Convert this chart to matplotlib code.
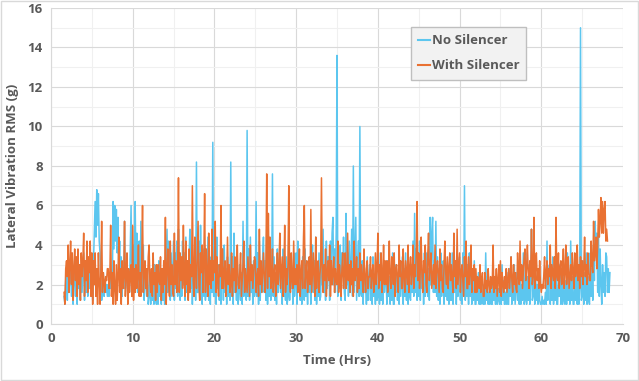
import matplotlib
matplotlib.use('Agg')
import matplotlib.pyplot as plt
import numpy as np
from matplotlib.ticker import MultipleLocator

# sampled every 0.1 hrs starting at 1.6 hrs
t_start = 1.6
t_step = 0.1

# With Silencer, one row per hour (1.6 .. 68.1)
with_silencer = [
    1.6, 1.0, 2.8, 3.2,
    2.4, 4.0, 1.6, 3.0, 4.2, 2.0, 3.6, 1.2, 2.8, 3.8,
    2.2, 3.4, 1.4, 3.8, 2.0, 3.0, 1.2, 3.6, 2.4, 3.2,
    4.6, 1.4, 3.2, 2.2, 4.2, 1.6, 3.4, 2.6, 4.2, 1.4,
    3.6, 1.0, 3.2, 2.0, 3.6, 1.4, 2.8, 1.0, 3.6, 2.2,
    1.0, 2.6, 5.2, 1.6, 2.6, 2.2, 1.6, 2.4, 2.2, 2.8,
    2.8, 1.8, 2.4, 5.0, 1.4, 2.6, 1.0, 3.2, 1.8, 1.0,
    3.0, 1.2, 2.4, 4.4, 1.6, 2.8, 1.0, 3.2, 1.8, 2.4,
    5.2, 1.4, 2.6, 3.6, 1.0, 2.8, 1.6, 2.4, 3.0, 1.4,
    5.0, 1.2, 2.8, 1.6, 3.0, 1.8, 2.4, 4.0, 1.4, 2.6,
    1.4, 3.0, 6.0, 1.6, 2.6, 3.2, 1.8, 2.8, 1.4, 3.4,
    4.0, 2.2, 1.6, 2.8, 1.4, 3.6, 2.0, 2.6, 1.2, 3.0,
    1.6, 3.0, 2.2, 2.0, 3.4, 1.2, 2.8, 1.6, 3.2, 2.0,
    5.4, 1.0, 2.6, 3.8, 2.2, 1.4, 4.2, 2.0, 3.0, 1.6,
    1.4, 4.6, 2.0, 3.2, 1.6, 2.8, 7.4, 1.6, 3.6, 2.2,
    3.4, 1.8, 5.0, 2.4, 1.4, 4.2, 2.0, 3.2, 1.2, 3.8,
    1.6, 3.0, 2.4, 7.0, 2.2, 1.4, 4.4, 2.6, 1.8, 3.6,
    5.2, 2.0, 1.2, 3.6, 2.6, 4.0, 1.6, 3.0, 6.6, 1.6,
    3.8, 2.4, 1.4, 4.6, 2.0, 3.2, 1.8, 4.8, 2.2, 3.2,
    2.6, 5.2, 1.6, 3.4, 2.2, 1.4, 3.0, 2.4, 6.0, 1.8,
    3.8, 1.8, 2.6, 3.2, 1.4, 2.2, 4.4, 2.0, 3.0, 1.6,
    2.0, 3.6, 1.4, 2.8, 2.2, 3.4, 1.6, 2.6, 4.0, 2.0,
    1.8, 2.6, 3.6, 1.4, 2.2, 3.0, 4.2, 1.6, 2.8, 2.2,
    1.6, 3.4, 2.4, 1.4, 4.0, 2.2, 3.0, 1.8, 2.6, 3.4,
    3.2, 1.6, 2.4, 2.8, 1.4, 4.8, 2.0, 3.2, 1.6, 2.6,
    3.6, 2.4, 1.6, 3.0, 7.6, 1.8, 5.6, 2.4, 4.4, 1.8,
    2.2, 3.8, 1.6, 2.6, 3.0, 1.4, 2.4, 3.6, 2.0, 2.8,
    4.6, 1.8, 2.6, 3.4, 1.4, 2.6, 5.0, 1.6, 2.8, 2.0,
    3.0, 7.0, 2.4, 1.6, 3.6, 2.2, 1.8, 4.2, 2.0, 2.8,
    2.0, 3.0, 1.6, 2.6, 3.8, 1.4, 2.6, 3.2, 1.8, 4.4,
    6.0, 1.8, 2.6, 3.2, 1.6, 2.4, 3.4, 2.0, 5.8, 1.6,
    2.6, 3.6, 2.2, 1.4, 4.4, 1.8, 2.8, 3.2, 1.6, 2.4,
    3.0, 7.4, 2.4, 1.6, 3.0, 2.2, 3.8, 1.4, 2.6, 3.2,
    2.2, 4.0, 1.4, 3.2, 2.0, 2.6, 3.4, 1.6, 2.8, 2.2,
    2.0, 4.2, 1.6, 3.0, 2.4, 1.4, 2.8, 3.6, 1.8, 2.6,
    3.6, 1.8, 2.4, 4.6, 2.2, 3.0, 1.6, 3.2, 2.0, 2.8,
    1.4, 4.2, 2.2, 2.6, 3.4, 1.6, 2.8, 1.8, 3.6, 2.2,
    3.0, 2.2, 1.6, 3.8, 2.4, 1.6, 2.8, 3.2, 1.8, 2.4,
    2.4, 3.4, 1.8, 2.6, 3.0, 1.6, 2.2, 3.6, 2.0, 2.8,
    4.6, 1.8, 3.0, 2.2, 3.6, 1.6, 2.4, 4.0, 2.0, 3.2,
    2.0, 3.2, 1.6, 2.6, 4.2, 2.2, 1.8, 3.4, 2.6, 2.0,
    3.6, 1.4, 2.8, 3.0, 2.2, 1.6, 4.0, 2.4, 3.2, 1.8,
    1.8, 3.8, 2.4, 1.6, 3.2, 2.6, 2.0, 4.0, 1.6, 2.8,
    3.4, 2.0, 2.6, 4.0, 1.8, 3.0, 2.4, 3.6, 6.2, 2.2,
    3.6, 1.8, 2.8, 4.4, 2.4, 1.6, 3.2, 2.6, 4.0, 2.0,
    1.6, 3.4, 4.6, 2.2, 2.8, 3.6, 1.8, 2.4, 3.0, 2.0,
    4.0, 1.8, 2.8, 3.2, 2.4, 1.6, 3.8, 2.2, 3.0, 1.8,
    1.6, 3.0, 4.2, 2.6, 2.0, 3.4, 1.8, 2.8, 3.6, 2.2,
    3.0, 2.2, 1.6, 4.6, 2.4, 3.2, 1.8, 4.8, 2.0, 2.8,
    3.6, 1.6, 2.6, 3.0, 2.2, 1.4, 3.4, 2.4, 4.2, 1.8,
    1.8, 3.4, 2.0, 2.6, 4.0, 1.6, 2.8, 2.2, 3.0, 1.6,
    2.8, 1.6, 2.4, 2.0, 1.8, 3.0, 1.6, 2.2, 2.6, 1.4,
    1.4, 2.6, 1.8, 2.2, 1.6, 2.8, 2.0, 1.6, 2.4, 1.8,
    2.0, 4.0, 1.6, 2.4, 1.8, 2.8, 1.4, 2.2, 3.0, 1.6,
    3.2, 1.4, 2.6, 2.0, 1.6, 2.4, 1.8, 2.8, 1.6, 2.2,
    2.8, 1.8, 2.4, 3.4, 2.2, 1.6, 3.0, 2.0, 2.6, 1.8,
    1.6, 3.6, 2.4, 2.0, 4.2, 2.2, 3.0, 1.8, 2.6, 3.4,
    3.8, 2.2, 2.8, 4.0, 2.6, 1.8, 3.2, 2.4, 4.8, 2.0,
    2.4, 5.4, 1.8, 3.0, 3.6, 2.2, 2.8, 1.8, 3.2, 2.0,
    1.6, 2.0, 1.8, 2.4, 3.4, 1.8, 2.6, 3.2, 2.0, 2.8,
    2.4, 4.0, 1.8, 3.0, 2.6, 2.2, 3.4, 1.8, 5.4, 2.4,
    2.2, 3.6, 1.8, 2.8, 3.2, 2.0, 2.6, 3.8, 1.8, 2.6,
    4.0, 2.0, 2.8, 3.4, 1.8, 2.4, 3.0, 2.2, 3.6, 2.6,
    1.8, 3.6, 2.4, 2.8, 4.0, 2.2, 3.0, 1.8, 3.4, 2.4,
    3.2, 2.0, 2.8, 4.4, 2.4, 3.0, 2.0, 3.6, 2.6, 2.2,
    2.2, 4.2, 3.0, 2.6, 5.2, 3.2, 3.6, 4.4, 2.8, 4.0,
    5.8, 4.4, 5.2, 6.4, 4.6, 6.2, 4.6, 5.8, 6.2, 4.2,
    4.8, 4.2,
]

# No Silencer, one row per hour (1.6 .. 68.4)
no_silencer = [
    1.4, 1.0, 2.2, 2.6,
    1.2, 3.4, 1.6, 2.4, 3.0, 1.4, 2.8, 1.0, 2.2, 3.2,
    1.4, 2.8, 1.0, 3.2, 1.8, 2.4, 1.2, 3.0, 1.6, 2.6,
    3.6, 1.2, 2.8, 1.6, 3.4, 1.4, 2.6, 1.8, 3.2, 1.4,
    2.6, 1.2, 3.2, 4.6, 6.2, 4.4, 6.8, 5.0, 6.6, 4.2,
    3.6, 2.4, 1.2, 1.8, 2.6, 1.4, 2.2, 1.6, 2.0, 1.4,
    2.0, 1.4, 2.6, 1.8, 2.4, 1.6, 6.2, 3.8, 6.0, 4.2,
    5.8, 3.6, 5.4, 2.4, 4.2, 1.6, 3.4, 1.4, 2.6, 1.8,
    5.2, 1.8, 3.0, 2.2, 1.4, 2.8, 1.6, 3.8, 6.0, 1.4,
    2.4, 4.0, 1.8, 6.2, 2.4, 4.6, 1.6, 2.8, 4.2, 1.8,
    5.2, 1.6, 3.4, 4.0, 1.2, 3.0, 2.2, 1.4, 2.8, 1.0,
    1.4, 2.4, 1.0, 2.8, 1.2, 2.0, 1.0, 3.0, 1.4, 1.0,
    2.6, 1.0, 3.2, 1.4, 2.2, 1.0, 2.8, 1.2, 2.4, 1.0,
    1.0, 3.0, 4.8, 1.6, 4.2, 2.4, 1.2, 3.6, 1.4, 2.8,
    4.2, 1.2, 3.6, 1.8, 4.2, 1.4, 4.8, 2.2, 1.2, 3.0,
    1.4, 4.2, 2.0, 3.6, 1.2, 4.4, 1.6, 2.8, 1.2, 3.4,
    4.8, 1.8, 3.4, 1.0, 2.6, 1.4, 3.2, 1.2, 8.2, 1.6,
    1.6, 4.2, 1.2, 5.0, 2.2, 1.0, 3.8, 1.4, 4.0, 1.2,
    3.6, 1.4, 4.4, 1.2, 2.8, 1.0, 3.4, 1.6, 9.2, 1.4,
    1.4, 3.6, 1.0, 4.4, 1.8, 3.0, 1.2, 2.6, 1.0, 3.8,
    3.2, 1.2, 4.0, 1.6, 2.8, 1.0, 3.4, 1.4, 2.4, 1.2,
    8.2, 1.4, 3.4, 1.0, 4.6, 1.6, 2.6, 1.2, 3.0, 1.0,
    1.6, 3.0, 1.2, 2.6, 1.0, 5.2, 1.4, 2.8, 2.4, 1.2,
    9.8, 1.4, 3.8, 1.2, 4.4, 1.6, 2.8, 1.0, 3.2, 1.4,
    1.8, 6.2, 1.4, 3.6, 1.0, 4.2, 1.2, 2.6, 1.6, 3.4,
    4.4, 1.6, 3.2, 1.2, 4.8, 1.0, 2.8, 1.4, 3.6, 1.2,
    2.0, 7.6, 1.4, 3.4, 1.2, 2.6, 1.0, 3.8, 1.6, 2.4,
    4.2, 1.6, 3.0, 1.0, 3.8, 1.4, 2.6, 1.2, 3.4, 1.0,
    1.4, 4.4, 1.2, 3.2, 1.8, 2.8, 1.0, 3.6, 1.4, 2.2,
    3.6, 1.0, 4.2, 1.6, 3.0, 1.2, 2.6, 1.0, 3.4, 1.4,
    1.2, 3.8, 1.4, 2.6, 1.0, 3.2, 1.6, 2.4, 1.0, 3.0,
    4.0, 1.6, 3.2, 1.2, 4.4, 1.0, 2.8, 1.4, 3.6, 1.2,
    1.4, 3.6, 2.0, 4.8, 1.6, 3.0, 1.2, 4.2, 1.8, 3.4,
    3.4, 1.2, 4.2, 2.2, 4.6, 5.4, 2.0, 3.8, 1.6, 4.6,
    13.6, 1.4, 3.2, 1.8, 4.0, 1.2, 3.6, 2.4, 4.4, 1.6,
    1.2, 5.6, 2.0, 3.6, 1.4, 4.2, 1.6, 3.0, 4.8, 1.4,
    8.0, 1.6, 3.4, 5.4, 1.2, 2.8, 4.2, 1.4, 10.0, 1.6,
    1.4, 3.2, 1.0, 2.8, 1.6, 2.4, 1.0, 3.4, 1.2, 2.2,
    3.0, 1.2, 2.6, 1.0, 3.4, 1.4, 2.2, 1.0, 2.8, 1.2,
    1.4, 2.8, 1.0, 3.6, 1.2, 2.4, 1.0, 3.0, 1.6, 2.2,
    2.6, 1.0, 3.2, 1.4, 2.4, 1.0, 2.8, 1.2, 3.6, 1.0,
    1.0, 3.0, 1.6, 2.6, 1.2, 2.2, 1.0, 3.2, 1.4, 2.4,
    3.4, 1.0, 2.8, 1.4, 3.6, 1.2, 2.4, 1.0, 3.0, 1.4,
    1.2, 3.0, 1.6, 4.2, 1.4, 5.6, 1.6, 3.8, 1.2, 2.6,
    1.4, 4.2, 1.2, 3.2, 1.8, 2.6, 1.0, 3.6, 1.4, 2.8,
    3.6, 1.4, 2.8, 1.2, 5.4, 2.0, 4.6, 5.4, 1.6, 3.2,
    1.6, 5.2, 1.4, 3.4, 1.2, 2.8, 1.0, 3.6, 1.4, 2.6,
    3.2, 1.0, 3.8, 1.4, 2.8, 1.2, 2.4, 1.0, 3.4, 1.2,
    1.2, 3.6, 1.0, 2.6, 1.6, 3.2, 1.0, 2.4, 1.4, 3.0,
    3.4, 1.2, 2.8, 1.0, 3.6, 1.4, 7.0, 1.2, 2.6, 1.4,
    3.0, 1.0, 3.6, 1.4, 2.4, 1.0, 2.8, 1.2, 3.2, 1.0,
    1.0, 2.2, 1.2, 2.6, 1.0, 1.8, 1.0, 2.4, 1.2, 1.0,
    2.0, 1.0, 3.6, 1.2, 2.4, 1.0, 1.6, 1.0, 2.2, 1.0,
    1.0, 2.6, 1.2, 2.0, 1.0, 2.4, 1.0, 1.8, 1.2, 1.0,
    2.4, 1.0, 3.0, 1.2, 2.2, 1.0, 1.6, 1.0, 2.6, 1.0,
    1.0, 2.8, 1.4, 3.4, 1.0, 2.2, 1.2, 3.0, 1.0, 1.8,
    2.6, 1.2, 3.2, 1.0, 2.8, 1.0, 2.0, 1.2, 3.6, 1.0,
    1.2, 3.6, 1.0, 2.4, 1.2, 3.0, 1.0, 2.2, 4.8, 1.2,
    1.4, 3.0, 1.0, 2.6, 1.2, 2.0, 1.0, 2.8, 1.2, 1.0,
    1.0, 1.4, 1.0, 1.2, 1.0, 1.6, 1.0, 4.2, 1.2, 2.4,
    3.0, 1.0, 2.4, 1.2, 3.4, 1.0, 2.0, 1.2, 2.8, 1.0,
    1.0, 2.6, 1.4, 3.0, 1.0, 2.2, 1.0, 2.8, 1.2, 1.0,
    2.2, 1.0, 3.6, 1.2, 2.6, 1.0, 4.2, 1.2, 2.4, 1.0,
    1.0, 2.4, 1.2, 3.0, 1.0, 2.2, 1.0, 1.8, 15.0, 1.2,
    1.4, 3.2, 1.0, 2.6, 1.2, 3.6, 1.0, 2.4, 1.2, 1.0,
    3.6, 1.4, 2.8, 1.2, 4.0, 2.2, 5.2, 3.4, 4.6, 1.6,
    4.6, 1.4, 3.8, 2.0, 1.0, 3.0, 1.6, 2.6, 1.4, 3.6,
    3.4, 1.6, 2.8, 1.6, 2.6,
]

t_with = t_start + t_step * np.arange(len(with_silencer))
t_no = t_start + t_step * np.arange(len(no_silencer))

blue = '#5CC6EF'
orange = '#E97132'
txt = '#595959'
plt.rcParams['font.family'] = ['Open Sans', 'DejaVu Sans']

fig = plt.figure(figsize=(6.39, 3.81), dpi=100)
ax = fig.add_axes([51 / 639, 57 / 381, 572 / 639, 316 / 381])

ax.plot(t_no, no_silencer, color=blue, lw=1.1, label='No Silencer', zorder=3)
ax.plot(t_with, with_silencer, color=orange, lw=1.1, label='With Silencer', zorder=4)

ax.set_xlim(0, 70)
ax.set_ylim(0, 16)
ax.xaxis.set_major_locator(MultipleLocator(10))
ax.xaxis.set_minor_locator(MultipleLocator(5))
ax.yaxis.set_major_locator(MultipleLocator(2))
ax.yaxis.set_minor_locator(MultipleLocator(1))
ax.grid(which='major', color='#D9D9D9', lw=0.8, zorder=0)
ax.grid(which='minor', color='#F0F0F0', lw=0.8, zorder=0)
ax.set_axisbelow(True)
ax.tick_params(which='both', length=0, colors=txt, labelsize=9.5, pad=6)
for lab in ax.get_xticklabels() + ax.get_yticklabels():
    lab.set_fontweight('bold')
for side in ['top', 'right']:
    ax.spines[side].set_visible(False)
for side in ['left', 'bottom']:
    ax.spines[side].set_color('#D9D9D9')

ax.set_xlabel('Time (Hrs)', color=txt, fontsize=9.5, fontweight='bold', labelpad=6)
ax.set_ylabel('Lateral Vibration RMS (g)', color=txt, fontsize=9.5, fontweight='bold', labelpad=6)

leg = ax.legend(loc='upper left', bbox_to_anchor=(0.618, 0.96), frameon=True,
                fancybox=False, handlelength=0.9, handletextpad=0.1,
                labelspacing=0.9, borderpad=0.55, fontsize=9.5)
leg.get_frame().set_facecolor('#F2F2F2')
leg.get_frame().set_edgecolor('#BFBFBF')
leg.get_frame().set_alpha(1)
for line in leg.get_lines():
    line.set_linewidth(1.5)
for text in leg.get_texts():
    text.set_color(txt)
    text.set_fontweight('bold')

fig.patches.append(plt.Rectangle((0.001, 0.002), 0.997, 0.995, transform=fig.transFigure,
                                 fill=False, edgecolor='#D9D9D9', lw=1))

fig.savefig('out.png', dpi=100)
